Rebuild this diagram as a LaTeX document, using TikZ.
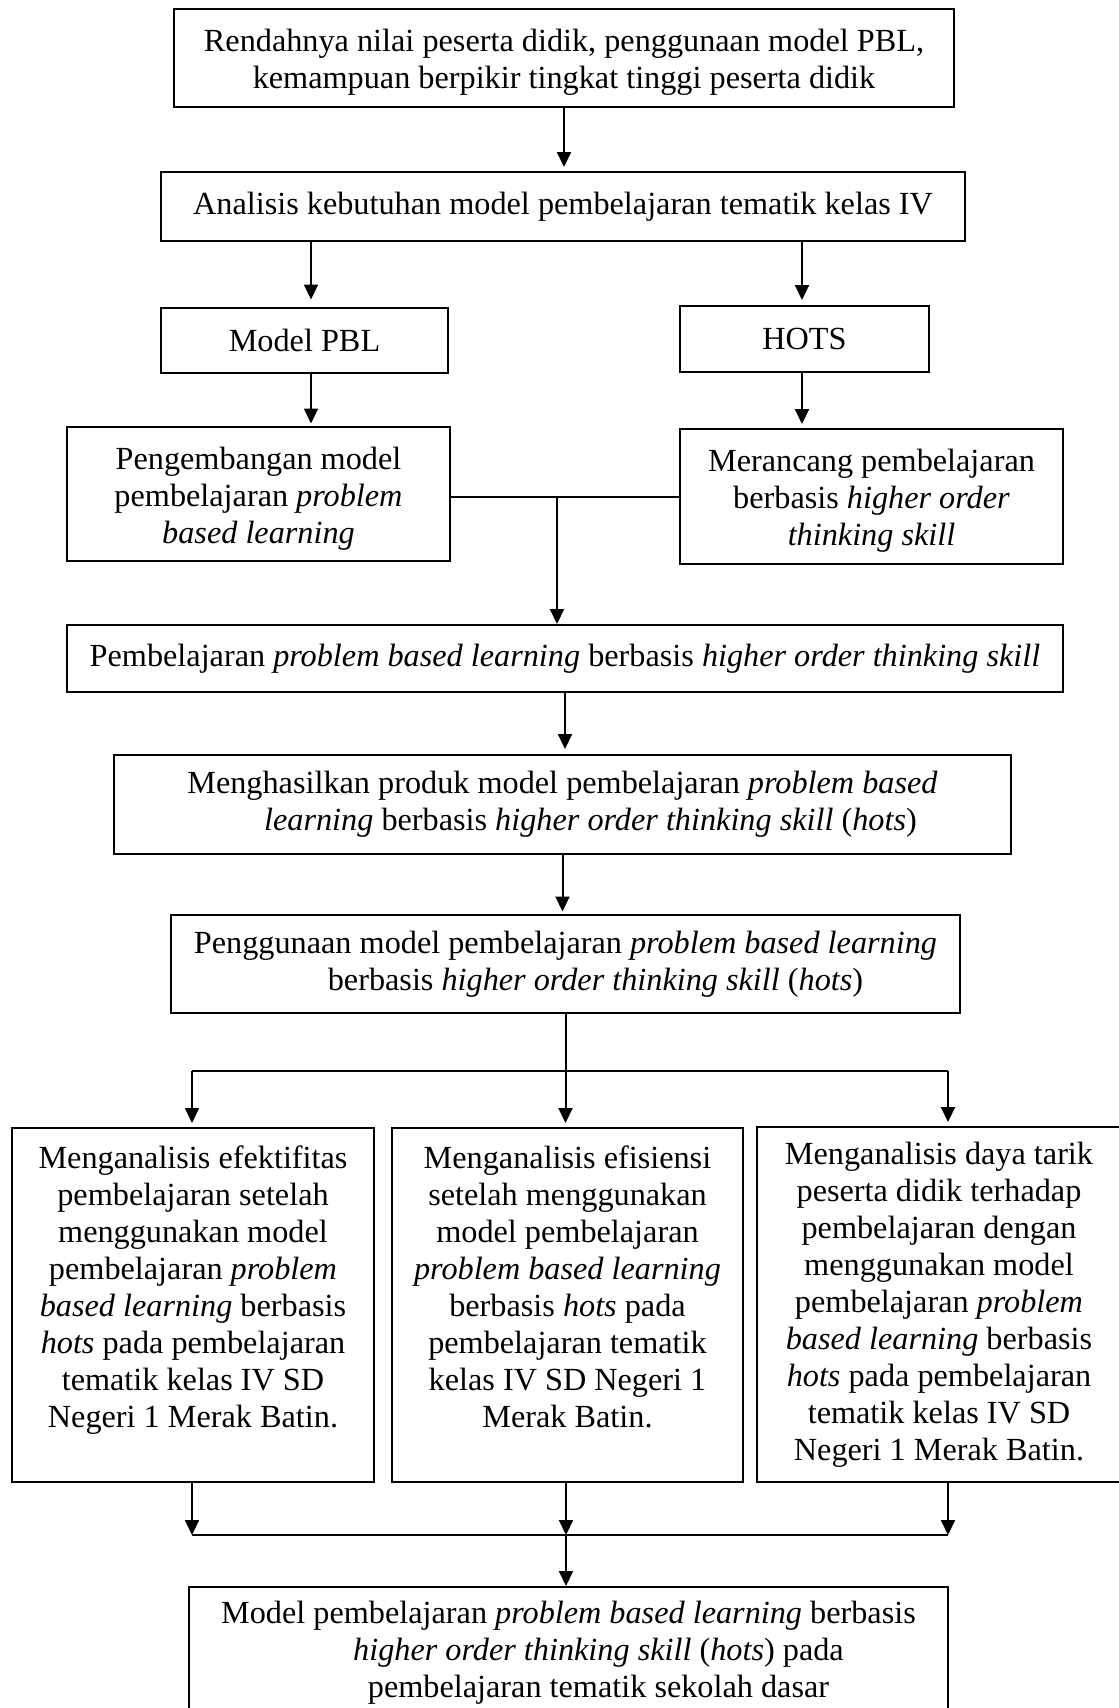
\documentclass[tikz,border=0pt]{standalone}
\usepackage{fontspec}
\setmainfont{Liberation Serif}
\usetikzlibrary{arrows.meta,calc}
\newcommand{\topstrut}{\rule{0pt}{12.5pt}}
\begin{document}
\begin{tikzpicture}[x=0.4pt,y=-0.4pt,
  box/.style={draw, line width=0.8pt, align=center, inner sep=0pt, font=\fontsize{12.9}{14.8}\selectfont},
  sz/.style 2 args={minimum width=#1*0.4pt, minimum height=#2*0.4pt},
  ln/.style={line width=0.8pt},
  arr/.style={line width=0.8pt, -{Triangle[length=6pt,width=5.6pt]}}]
\clip (0,0) rectangle (1119,1708);
\fill[white] (0,0) rectangle (1119,1708);

\node[box, sz={780}{98}] (b1) at (564,58) {\topstrut Rendahnya nilai peserta didik, penggunaan model PBL,\\ kemampuan berpikir tingkat tinggi peserta didik};
\node[box, sz={804}{69}] (b2) at (563,206.5) {Analisis kebutuhan model pembelajaran tematik kelas IV};
\node[box, sz={287}{65}] (pbl) at (304.5,340.5) {Model PBL};
\node[box, sz={249}{66}] (hots) at (804.5,339) {HOTS};
\node[box, sz={383}{134}] (peng) at (258.5,494) {\topstrut Pengembangan model\\ pembelajaran \textit{problem}\\ \textit{based learning}};
\node[box, sz={383}{135}] (mer) at (871.5,496.5) {\topstrut Merancang pembelajaran\\ berbasis \textit{higher order}\\ \textit{thinking skill}};
\node[box, sz={996}{67}] (pemb) at (565,658.5) {Pembelajaran \textit{problem based learning} berbasis \textit{higher order thinking skill}};
\node[box, sz={897}{99}] (meng) at (562.5,804.5) {Menghasilkan produk model pembelajaran \textit{problem based}\\ \hspace*{22.4pt}\textit{learning} berbasis \textit{higher order thinking skill} (\textit{hots})};
\node[box, sz={789}{98}] (pg) at (565.5,964) {Penggunaan model pembelajaran \textit{problem based learning}\\ \hspace*{24pt}berbasis \textit{higher order thinking skill} (\textit{hots})};
\node[box, sz={362}{354}] (ka) at (193,1305) {Menganalisis efektifitas\\ pembelajaran setelah\\ menggunakan model\\ pembelajaran \textit{problem}\\ \textit{based learning} berbasis\\ \textit{hots} pada pembelajaran\\ tematik kelas IV SD\\ Negeri 1 Merak Batin.\\ \mbox{}};
\node[box, sz={351}{354}] (kb) at (567.5,1305) {Menganalisis efisiensi\\ setelah menggunakan\\ model pembelajaran\\ \textit{problem based learning}\\ berbasis \textit{hots} pada\\ pembelajaran tematik\\ kelas IV SD Negeri 1\\ Merak Batin.\\ \mbox{}};
\node[box, sz={364}{355}] (kc) at (939,1304.5) {Menganalisis daya tarik\\ peserta didik terhadap\\ pembelajaran dengan\\ menggunakan model\\ pembelajaran \textit{problem}\\ \textit{based learning} berbasis\\ \textit{hots} pada pembelajaran\\ tematik kelas IV SD\\ Negeri 1 Merak Batin.};
\node[box, sz={759}{132}] (hasil) at (568.5,1653) {Model pembelajaran \textit{problem based learning} berbasis\\ \hspace*{24pt}\textit{higher order thinking skill} (\textit{hots}) pada\\ \hspace*{24pt}pembelajaran tematik sekolah dasar};

\coordinate (cL) at (311,0);
\coordinate (cR) at (802,0);
\coordinate (jn) at (557,496.5);
\coordinate (c1) at (192,0);
\coordinate (c2) at (566,0);
\coordinate (c3) at (948,0);
\coordinate (fo) at (565,1071);
\coordinate (fi) at (566,1535);

\draw[arr, shorten >=1.6pt] (b1.south) -- (b1.south |- b2.north);
\draw[arr, shorten >=3pt] (b2.south -| cL) -- (pbl.north -| cL);
\draw[arr, shorten >=2pt] (b2.south -| cR) -- (hots.north -| cR);
\draw[arr, shorten >=1pt] (pbl.south -| cL) -- (peng.north -| cL);
\draw[arr, shorten >=1.6pt] (hots.south -| cR) -- (mer.north -| cR);
\draw[ln] (peng.east |- jn) -- (mer.west |- jn);
\draw[arr] (jn) -- (pemb.north -| jn);
\draw[arr, shorten >=2pt] (pemb.south) -- (pemb.south |- meng.north);
\draw[arr, shorten >=1pt] (meng.south) -- (meng.south |- pg.north);
\draw[arr, shorten >=1.6pt] (pg.south) -- (pg.south |- kb.north);
\draw[ln] (fo -| c1) -- (fo -| c3);
\draw[arr, shorten >=1.6pt] (fo -| c1) -- (ka.north -| c1);
\draw[arr, shorten >=1.6pt] (fo -| c3) -- (kc.north -| c3);
\draw[arr] (ka.south -| c1) -- (fi -| c1);
\draw[arr] (kb.south -| c2) -- (fi -| c2);
\draw[arr] (kc.south -| c3) -- (fi -| c3);
\draw[ln] (fi -| c1) -- (fi -| c3);
\draw[arr] (fi -| c2) -- (hasil.north -| c2);
\end{tikzpicture}
\end{document}
